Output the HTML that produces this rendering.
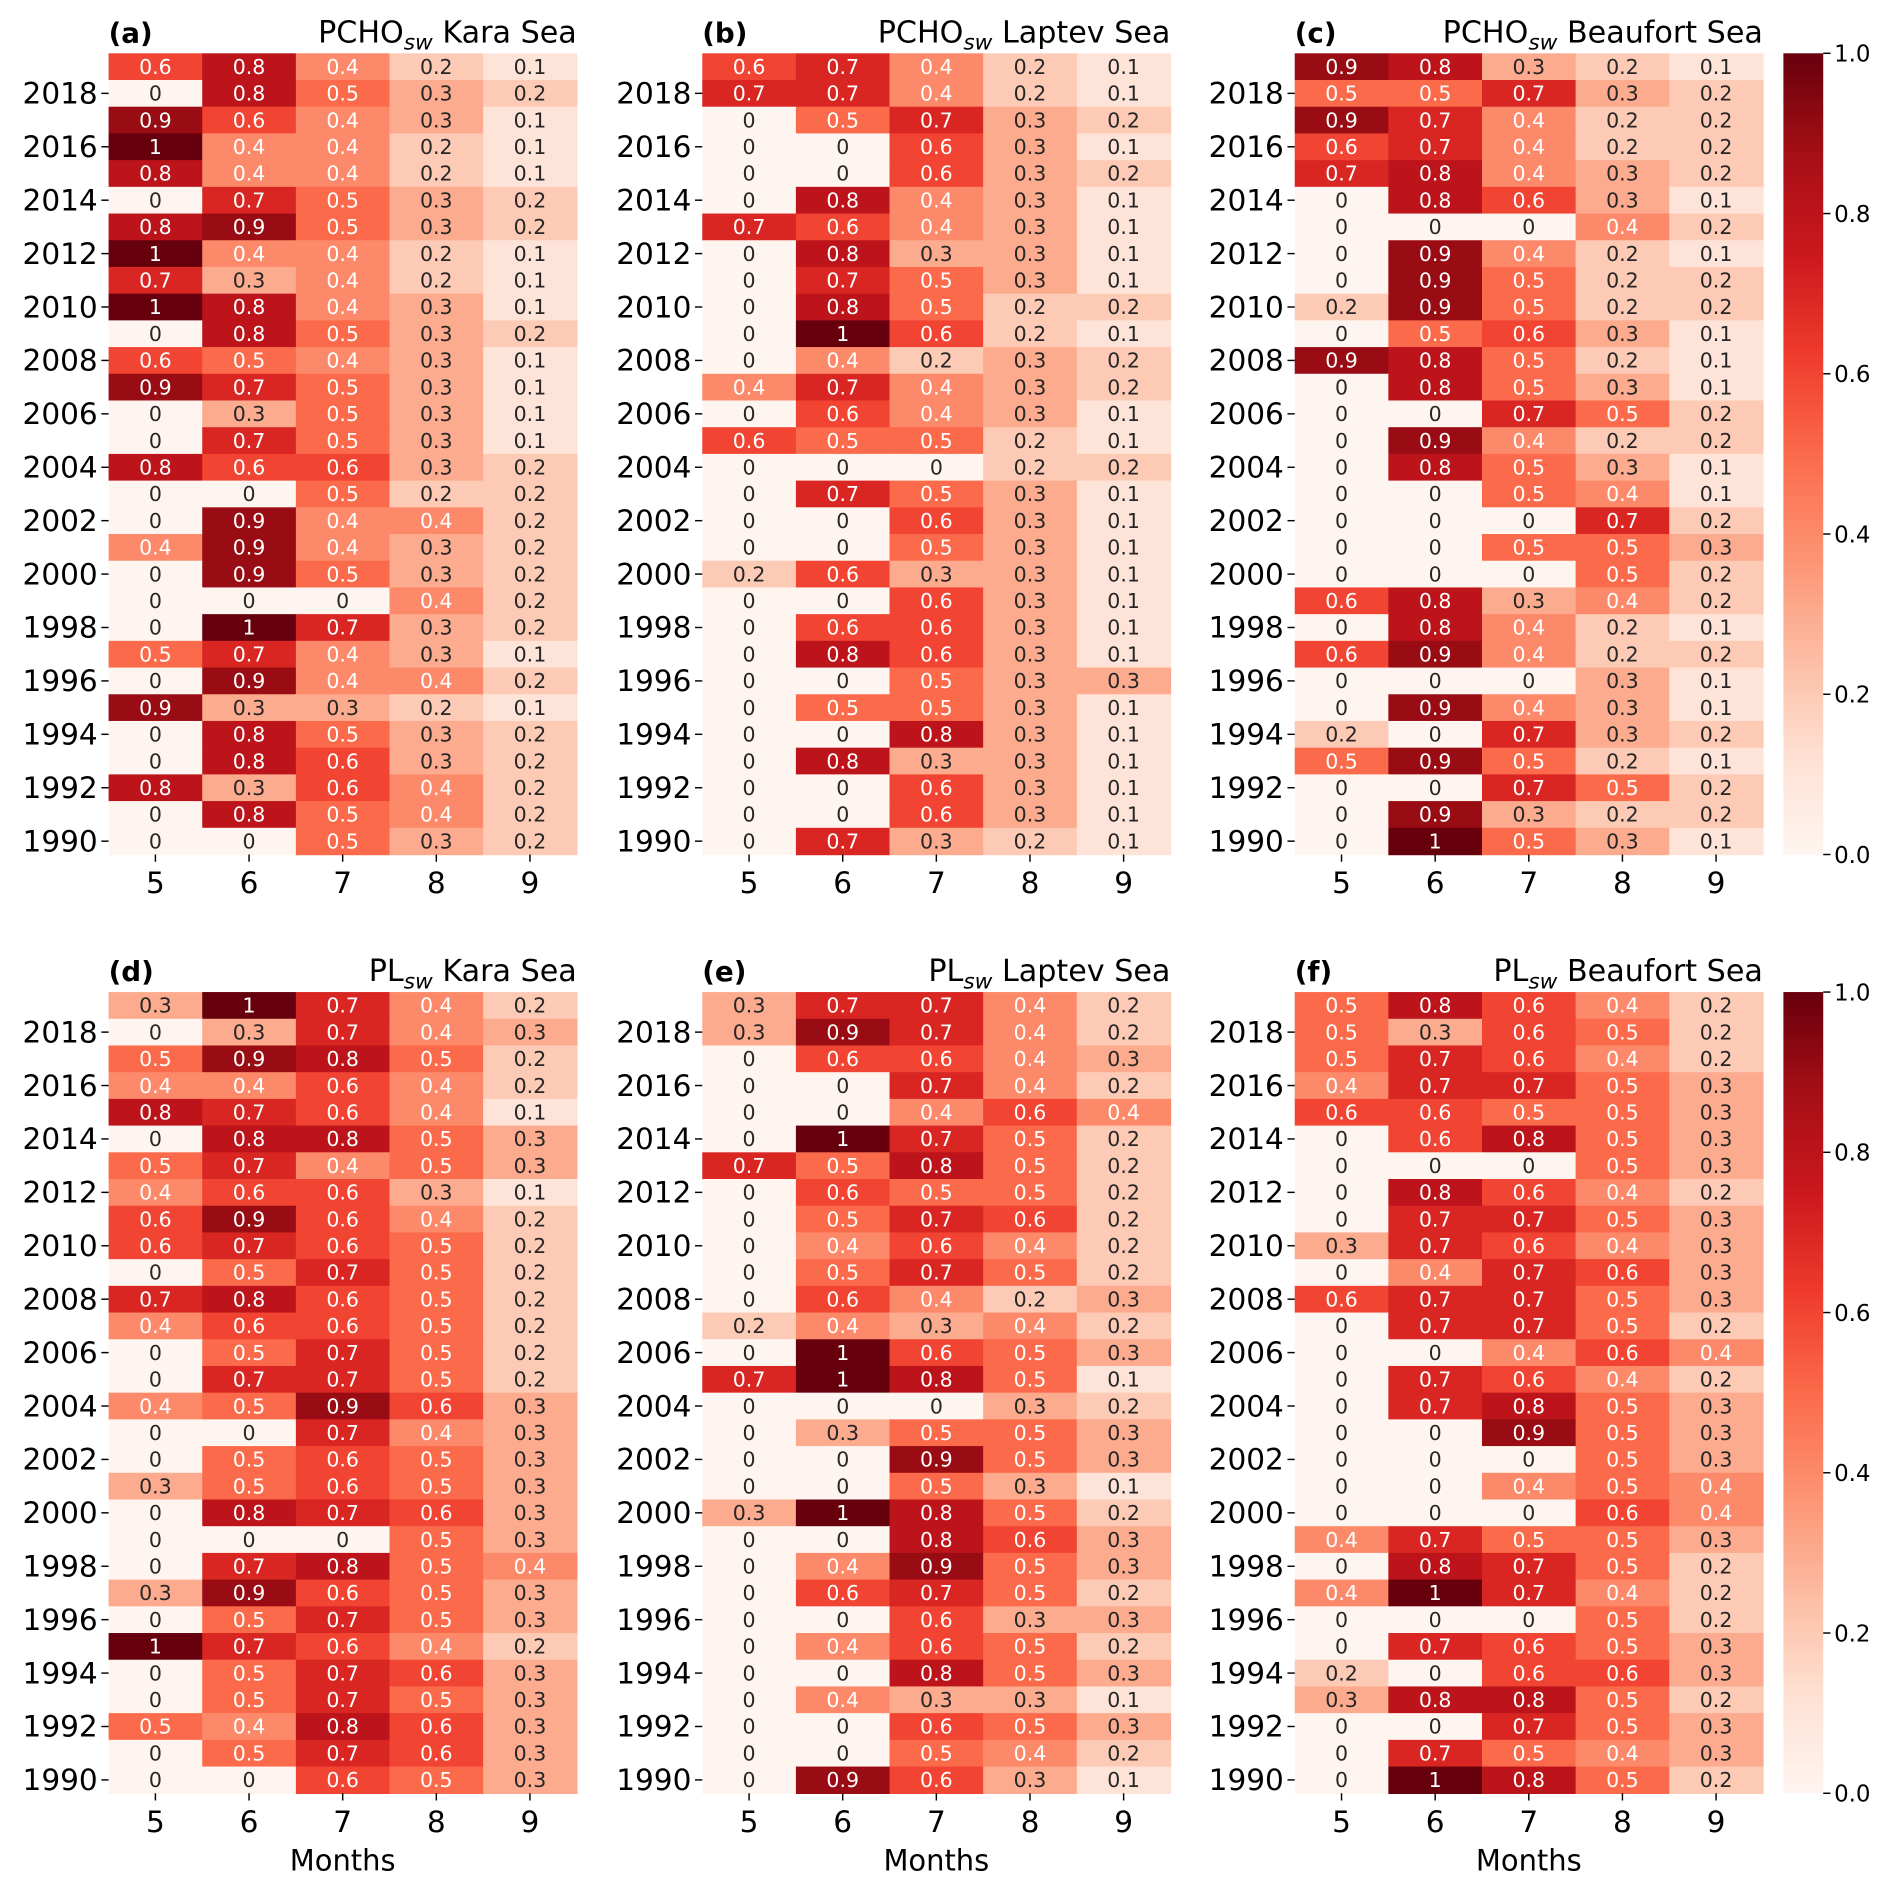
<!DOCTYPE html>
<html><head><meta charset="utf-8"><style>
html,body{margin:0;padding:0;background:#fff;}
svg{display:block;font-family:"DejaVu Sans","Liberation Sans",sans-serif;}
</style></head><body>
<svg id="fig" width="1892" height="1890" viewBox="0 0 1568 1566" xmlns="http://www.w3.org/2000/svg"></svg>
<script>
// Months and years
const months = [5,6,7,8,9];
const years = [2019,2018,2017,2016,2015,2014,2013,2012,2011,2010,2009,2008,2007,2006,2005,2004,2003,2002,2001,2000,1999,1998,1997,1996,1995,1994,1993,1992,1991,1990];
const yearTicks = [2018,2016,2014,2012,2010,2008,2006,2004,2002,2000,1998,1996,1994,1992,1990];
const cbarTicks = [0.0,0.2,0.4,0.6,0.8,1.0];
const panelLetters = ['(a)','(b)','(c)','(d)','(e)','(f)'];
const panelVars = ['PCHO','PCHO','PCHO','PL','PL','PL'];
const panelSeas = ['Kara Sea','Laptev Sea','Beaufort Sea','Kara Sea','Laptev Sea','Beaufort Sea'];

const dataA = [[.6,.8,.4,.2,.1],[0,.8,.5,.3,.2],[.9,.6,.4,.3,.1],[1,.4,.4,.2,.1],[.8,.4,.4,.2,.1],[0,.7,.5,.3,.2],[.8,.9,.5,.3,.2],[1,.4,.4,.2,.1],[.7,.3,.4,.2,.1],[1,.8,.4,.3,.1],[0,.8,.5,.3,.2],[.6,.5,.4,.3,.1],[.9,.7,.5,.3,.1],[0,.3,.5,.3,.1],[0,.7,.5,.3,.1],[.8,.6,.6,.3,.2],[0,0,.5,.2,.2],[0,.9,.4,.4,.2],[.4,.9,.4,.3,.2],[0,.9,.5,.3,.2],[0,0,0,.4,.2],[0,1,.7,.3,.2],[.5,.7,.4,.3,.1],[0,.9,.4,.4,.2],[.9,.3,.3,.2,.1],[0,.8,.5,.3,.2],[0,.8,.6,.3,.2],[.8,.3,.6,.4,.2],[0,.8,.5,.4,.2],[0,0,.5,.3,.2]];
const dataB = [[.6,.7,.4,.2,.1],[.7,.7,.4,.2,.1],[0,.5,.7,.3,.2],[0,0,.6,.3,.1],[0,0,.6,.3,.2],[0,.8,.4,.3,.1],[.7,.6,.4,.3,.1],[0,.8,.3,.3,.1],[0,.7,.5,.3,.1],[0,.8,.5,.2,.2],[0,1,.6,.2,.1],[0,.4,.2,.3,.2],[.4,.7,.4,.3,.2],[0,.6,.4,.3,.1],[.6,.5,.5,.2,.1],[0,0,0,.2,.2],[0,.7,.5,.3,.1],[0,0,.6,.3,.1],[0,0,.5,.3,.1],[.2,.6,.3,.3,.1],[0,0,.6,.3,.1],[0,.6,.6,.3,.1],[0,.8,.6,.3,.1],[0,0,.5,.3,.3],[0,.5,.5,.3,.1],[0,0,.8,.3,.1],[0,.8,.3,.3,.1],[0,0,.6,.3,.1],[0,0,.6,.3,.1],[0,.7,.3,.2,.1]];
const dataC = [[.9,.8,.3,.2,.1],[.5,.5,.7,.3,.2],[.9,.7,.4,.2,.2],[.6,.7,.4,.2,.2],[.7,.8,.4,.3,.2],[0,.8,.6,.3,.1],[0,0,0,.4,.2],[0,.9,.4,.2,.1],[0,.9,.5,.2,.2],[.2,.9,.5,.2,.2],[0,.5,.6,.3,.1],[.9,.8,.5,.2,.1],[0,.8,.5,.3,.1],[0,0,.7,.5,.2],[0,.9,.4,.2,.2],[0,.8,.5,.3,.1],[0,0,.5,.4,.1],[0,0,0,.7,.2],[0,0,.5,.5,.3],[0,0,0,.5,.2],[.6,.8,.3,.4,.2],[0,.8,.4,.2,.1],[.6,.9,.4,.2,.2],[0,0,0,.3,.1],[0,.9,.4,.3,.1],[.2,0,.7,.3,.2],[.5,.9,.5,.2,.1],[0,0,.7,.5,.2],[0,.9,.3,.2,.2],[0,1,.5,.3,.1]];
const dataD = [[.3,1,.7,.4,.2],[0,.3,.7,.4,.3],[.5,.9,.8,.5,.2],[.4,.4,.6,.4,.2],[.8,.7,.6,.4,.1],[0,.8,.8,.5,.3],[.5,.7,.4,.5,.3],[.4,.6,.6,.3,.1],[.6,.9,.6,.4,.2],[.6,.7,.6,.5,.2],[0,.5,.7,.5,.2],[.7,.8,.6,.5,.2],[.4,.6,.6,.5,.2],[0,.5,.7,.5,.2],[0,.7,.7,.5,.2],[.4,.5,.9,.6,.3],[0,0,.7,.4,.3],[0,.5,.6,.5,.3],[.3,.5,.6,.5,.3],[0,.8,.7,.6,.3],[0,0,0,.5,.3],[0,.7,.8,.5,.4],[.3,.9,.6,.5,.3],[0,.5,.7,.5,.3],[1,.7,.6,.4,.2],[0,.5,.7,.6,.3],[0,.5,.7,.5,.3],[.5,.4,.8,.6,.3],[0,.5,.7,.6,.3],[0,0,.6,.5,.3]];
const dataE = [[.3,.7,.7,.4,.2],[.3,.9,.7,.4,.2],[0,.6,.6,.4,.3],[0,0,.7,.4,.2],[0,0,.4,.6,.4],[0,1,.7,.5,.2],[.7,.5,.8,.5,.2],[0,.6,.5,.5,.2],[0,.5,.7,.6,.2],[0,.4,.6,.4,.2],[0,.5,.7,.5,.2],[0,.6,.4,.2,.3],[.2,.4,.3,.4,.2],[0,1,.6,.5,.3],[.7,1,.8,.5,.1],[0,0,0,.3,.2],[0,.3,.5,.5,.3],[0,0,.9,.5,.3],[0,0,.5,.3,.1],[.3,1,.8,.5,.2],[0,0,.8,.6,.3],[0,.4,.9,.5,.3],[0,.6,.7,.5,.2],[0,0,.6,.3,.3],[0,.4,.6,.5,.2],[0,0,.8,.5,.3],[0,.4,.3,.3,.1],[0,0,.6,.5,.3],[0,0,.5,.4,.2],[0,.9,.6,.3,.1]];
const dataF = [[.5,.8,.6,.4,.2],[.5,.3,.6,.5,.2],[.5,.7,.6,.4,.2],[.4,.7,.7,.5,.3],[.6,.6,.5,.5,.3],[0,.6,.8,.5,.3],[0,0,0,.5,.3],[0,.8,.6,.4,.2],[0,.7,.7,.5,.3],[.3,.7,.6,.4,.3],[0,.4,.7,.6,.3],[.6,.7,.7,.5,.3],[0,.7,.7,.5,.2],[0,0,.4,.6,.4],[0,.7,.6,.4,.2],[0,.7,.8,.5,.3],[0,0,.9,.5,.3],[0,0,0,.5,.3],[0,0,.4,.5,.4],[0,0,0,.6,.4],[.4,.7,.5,.5,.3],[0,.8,.7,.5,.2],[.4,1,.7,.4,.2],[0,0,0,.5,.2],[0,.7,.6,.5,.3],[.2,0,.6,.6,.3],[.3,.8,.8,.5,.2],[0,0,.7,.5,.3],[0,.7,.5,.4,.3],[0,1,.8,.5,.2]];
const panelData = [dataA,dataB,dataC,dataD,dataE,dataF];

const NS='http://www.w3.org/2000/svg';
const svg=document.getElementById('fig');
const stops=[[0,[255,245,240]],[.125,[254,224,210]],[.25,[252,187,161]],[.375,[252,146,114]],[.5,[251,106,74]],[.625,[239,59,44]],[.75,[203,24,29]],[.875,[165,15,21]],[1,[103,0,13]]];
function reds(v){v=Math.max(0,Math.min(1,v));for(let i=1;i<stops.length;i++){if(v<=stops[i][0]){const a=stops[i-1],b=stops[i],t=(v-a[0])/(b[0]-a[0]);return 'rgb('+a[1].map((c,k)=>Math.round(c+(b[1][k]-c)*t)).join(',')+')';}}return 'rgb(103,0,13)';}
function mk(tag,attrs,parent){const e=document.createElementNS(NS,tag);for(const k in attrs)e.setAttribute(k,attrs[k]);(parent||svg).appendChild(e);return e;}

const panelX=[90,582,1073], panelY=[44,822], W=388, H=664;
const cw=W/months.length, rh=H/years.length;
function xScale(p,i){return panelX[p%3]+i*cw;}
function yScale(p,j){return panelY[Math.floor(p/3)]+j*rh;}
function yearIndex(y){return years.indexOf(y);}

for(let p=0;p<6;p++){
  const g=mk('g',{});
  
  
  const d=panelData[p];
  for(let j=0;j<years.length;j++){for(let i=0;i<months.length;i++){
    const v=d[j][i];
    const r=mk('rect',{x:xScale(p,i),y:yScale(p,j),width:cw+0.6,height:rh+0.6,fill:reds(v)},g);
    
    
    const t=mk('text',{x:xScale(p,i)+cw/2,y:yScale(p,j)+rh/2+6,'text-anchor':'middle','font-size':17,fill:v>=0.4?'#fff':'#262626'},g);
    t.textContent=String(v);
    
    
  }}
  const x0=panelX[p%3], y0=panelY[Math.floor(p/3)];
  yearTicks.forEach(y=>{
    const j=yearIndex(y), cy=yScale(p,j)+rh/2;
    mk('line',{x1:x0-6,x2:x0,y1:cy,y2:cy,stroke:'#000','stroke-width':1.2},g);
    const t=mk('text',{x:x0-9,y:cy+8.5,'text-anchor':'end','font-size':24.5,fill:'#000'},g);
    t.textContent=y;
    
    
  });
  months.forEach((m,i)=>{
    const cx=xScale(p,i)+cw/2;
    mk('line',{x1:cx,x2:cx,y1:y0+H,y2:y0+H+6,stroke:'#000','stroke-width':1.2},g);
    const t=mk('text',{x:cx,y:y0+H+32,'text-anchor':'middle','font-size':24.5,fill:'#000'},g);
    t.textContent=m;
    
    
  });
  const lt=mk('text',{x:x0,y:y0-9,'font-size':23,'font-weight':'bold',fill:'#000'},g);
  lt.textContent=panelLetters[p];
  
  
  const tt=mk('text',{x:x0+W,y:y0-9,'text-anchor':'end','font-size':25,fill:'#000'},g);
  
  
  const s1=mk('tspan',{},tt); s1.textContent=panelVars[p];
  const s2=mk('tspan',{'font-size':18,'font-style':'italic',dy:6},tt); s2.textContent='sw';
  const s3=mk('tspan',{dy:-6},tt); s3.textContent=' '+panelSeas[p];
  if(p>=3){
    const mt=mk('text',{x:x0+W/2,y:1550,'text-anchor':'middle','font-size':24,fill:'#000'},g);
    mt.textContent='Months';
    
    
  }
}
const defs=mk('defs',{});
const lg=mk('linearGradient',{id:'cb',x1:0,y1:1,x2:0,y2:0},defs);
stops.forEach(s=>mk('stop',{offset:s[0],'stop-color':'rgb('+s[1].join(',')+')'},lg));
panelY.forEach((y0,k)=>{
  const g=mk('g',{});
  
  
  mk('rect',{x:1478,y:y0,width:33,height:H,fill:'url(#cb)'},g);
  cbarTicks.forEach(v=>{
    const cy=y0+H-v*H;
    mk('line',{x1:1511,x2:1517,y1:cy,y2:cy,stroke:'#000','stroke-width':1.2},g);
    const t=mk('text',{x:1520,y:cy+7,'font-size':19,fill:'#000'},g);
    t.textContent=v.toFixed(1);
    
    
  });
});
</script>
</body></html>
